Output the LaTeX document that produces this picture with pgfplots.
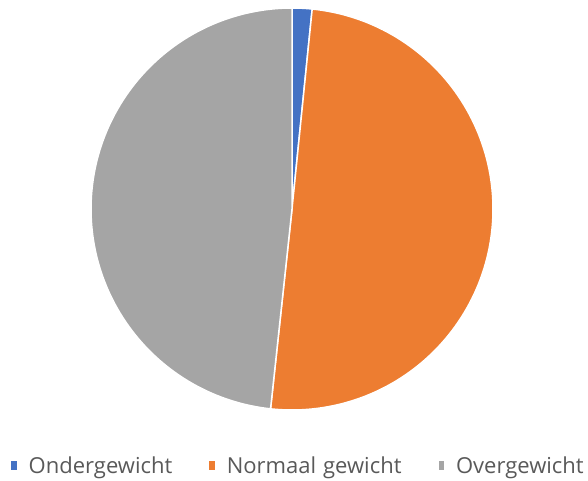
\documentclass[border=0pt]{standalone}
\usepackage{pgfplots}
\pgfplotsset{compat=1.18}
\usepackage{pgfplotstable}
\usepackage{fontspec}
\setmainfont{Open Sans}
\definecolor{cblue}{HTML}{4472C4}
\definecolor{corange}{HTML}{ED7D31}
\definecolor{cgray}{HTML}{A5A5A5}
\definecolor{ctext}{HTML}{595959}
\pgfplotstableread{
cat value
Ondergewicht 1.6
Normaal 50.1
Overgewicht 48.3
}\piedata
\begin{document}
\begin{tikzpicture}
\pgfplotstablegetelem{0}{value}\of\piedata \let\va\pgfplotsretval
\pgfplotstablegetelem{1}{value}\of\piedata \let\vb\pgfplotsretval
\pgfplotstablegetelem{2}{value}\of\piedata \let\vc\pgfplotsretval
\pgfmathsetmacro{\tot}{\va+\vb+\vc}
\pgfmathsetmacro{\aA}{90}
\pgfmathsetmacro{\aB}{90-360*(\va/\tot)}
\pgfmathsetmacro{\aC}{\aB-360*(\vb/\tot)}
\pgfmathsetmacro{\aD}{\aC-360*(\vc/\tot)}
\begin{axis}[
  scale only axis, width=588pt, height=480pt,
  xmin=0, xmax=588, ymin=0, ymax=480,
  hide axis, clip=false,
  legend columns=3,
  legend style={at={(axis cs:11,14.5)}, anchor=west, draw=none, fill=none, inner sep=0pt,
    font=\fontsize{22pt}{25pt}\selectfont\color{ctext},
    nodes={inner sep=0pt},
    /tikz/every odd column/.append style={column sep=12pt},
    /tikz/every even column/.append style={column sep=37pt}},
  legend image code/.code={\fill[#1, draw=none] (0pt,-4.5pt) rectangle (5.5pt,4.5pt);},
  legend cell align=left,
]
\addplot[fill=cblue, draw=white, line width=1.5pt, domain=\aB:\aA, samples=20]
  ({292+201*cos(x)},{271+201*sin(x)}) -- (axis cs:292,271) -- cycle;
\addlegendentry{Ondergewicht}
\addplot[fill=corange, draw=white, line width=1.5pt, domain=\aC:\aB, samples=120]
  ({292+201*cos(x)},{271+201*sin(x)}) -- (axis cs:292,271) -- cycle;
\addlegendentry{Normaal\hspace{7pt}gewicht}
\addplot[fill=cgray, draw=white, line width=1.5pt, domain=\aD:\aC, samples=120]
  ({292+201*cos(x)},{271+201*sin(x)}) -- (axis cs:292,271) -- cycle;
\addlegendentry{Overgewicht}
\end{axis}
\useasboundingbox (current axis.south west) rectangle (current axis.north east);
\end{tikzpicture}
\end{document}
